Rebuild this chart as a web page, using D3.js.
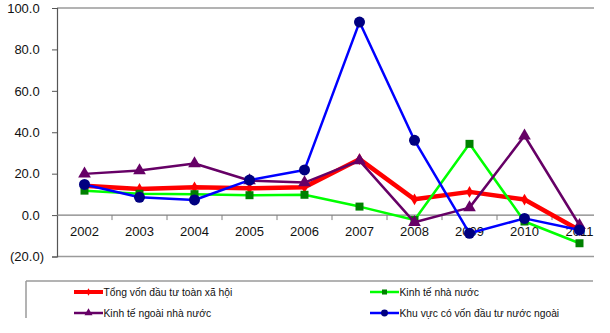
<!DOCTYPE html>
<html>
<head>
<meta charset="utf-8">
<script src="https://cdn.jsdelivr.net/npm/d3@7/dist/d3.min.js"></script>
<style>
  html, body { margin: 0; padding: 0; background: #fff; }
  svg { display: block; font-family: "Liberation Sans", Arial, sans-serif; }
</style>
</head>
<body>
<svg id="chart" width="610" height="333"></svg>
<script>
// Growth rate of investment capital by ownership sector (%)
const years = ["2002", "2003", "2004", "2005", "2006", "2007", "2008", "2009", "2010", "2011"];
const tongVon   = [14.2, 12.6, 13.4, 12.9, 13.5, 27.0, 7.6, 11.2, 7.5, -7.3];
const nhaNuoc   = [11.8, 10.3, 10.1, 9.6, 9.8, 4.1, -2.4, 34.4, -3.1, -13.6];
const ngoaiNN   = [19.9, 21.5, 24.9, 16.7, 15.7, 26.3, -3.5, 3.6, 38.3, -4.9];
const fdi       = [14.8, 8.6, 7.3, 16.9, 21.8, 93.2, 36.1, -8.8, -1.6, -7.2];
const yTicks    = [-20, 0, 20, 40, 60, 80, 100];

const series = [
  { name: "Tổng vốn đầu tư toàn xã hội",       values: tongVon, line: "#FF0000", mark: "#FF0000", width: 4.5, symbol: d3.symbolDiamond,  size: 40 },
  { name: "Kinh tế nhà nước",                  values: nhaNuoc, line: "#00FF00", mark: "#008000", width: 2.5, symbol: d3.symbolSquare,   size: 64 },
  { name: "Kinh tế ngoài nhà nước",            values: ngoaiNN, line: "#660066", mark: "#660066", width: 2.5, symbol: d3.symbolTriangle, size: 70 },
  { name: "Khu vực có vốn đầu tư nước ngoài",  values: fdi,     line: "#0000FF", mark: "#000080", width: 2.5, symbol: d3.symbolCircle,   size: 95 }
];

const svg = d3.select("#chart");
const plotL = 57, plotR = 594, plotT = 8, plotB = 256.5;

const x = d3.scaleBand().domain(years).range([plotL, plotL + 55 * years.length]).paddingInner(0).paddingOuter(0);
const y = d3.scaleLinear().domain([-20, 100]).range([plotB, plotT]);

// frame lines at top and bottom of the plot area
svg.append("line").attr("x1", plotL).attr("x2", plotR).attr("y1", plotT).attr("y2", plotT)
  .attr("stroke", "#9a9a9a").attr("stroke-width", 1.5);
svg.append("line").attr("x1", plotL).attr("x2", plotR).attr("y1", plotB).attr("y2", plotB)
  .attr("stroke", "#9a9a9a").attr("stroke-width", 1.5);

// y axis
const fmt = v => v < 0 ? "(" + d3.format(".1f")(-v) + ")" : d3.format(".1f")(v);
const yAxis = svg.append("g").attr("transform", `translate(${plotL},0)`)
  .call(d3.axisLeft(y).tickValues(yTicks).tickSize(5).tickPadding(8).tickFormat(fmt));
yAxis.select(".domain").attr("stroke", "#555").attr("stroke-width", 1.2);
yAxis.selectAll(".tick line").attr("stroke", "#555");
yAxis.selectAll(".tick text")
  .attr("font-size", 13).attr("fill", "#111")
  .attr("dx", d => d < 0 ? 0 : -4.3);

// x axis along zero
const xAxis = svg.append("g").attr("transform", `translate(0,${y(0)})`)
  .call(d3.axisBottom(x).tickSize(0).tickPadding(12));
xAxis.select(".domain").remove();
xAxis.selectAll(".tick text").attr("font-size", 13).attr("fill", "#111");
svg.append("line").attr("x1", plotL).attr("x2", plotR).attr("y1", y(0)).attr("y2", y(0))
  .attr("stroke", "#808080").attr("stroke-width", 1.2);
// tick marks between categories
svg.append("g").selectAll("line")
  .data(years.slice(1))
  .join("line")
  .attr("x1", d => x(d)).attr("x2", d => x(d))
  .attr("y1", y(0)).attr("y2", y(0) + 5)
  .attr("stroke", "#808080").attr("stroke-width", 1);

// series lines and markers
const cx = i => x(years[i]) + x.bandwidth() / 2;
const lineGen = d3.line().x((d, i) => cx(i)).y(d => y(d));

series.forEach(s => {
  svg.append("path").datum(s.values)
    .attr("d", lineGen)
    .attr("fill", "none")
    .attr("stroke", s.line)
    .attr("stroke-width", s.width)
    .attr("stroke-linejoin", "round");
  svg.append("g").selectAll("path")
    .data(s.values)
    .join("path")
    .attr("transform", (d, i) => `translate(${cx(i)},${y(d)})`)
    .attr("d", d3.symbol().type(s.symbol).size(s.size))
    .attr("fill", s.mark);
});

// legend box
svg.append("line").attr("x1", 26).attr("x2", 593).attr("y1", 281).attr("y2", 281)
  .attr("stroke", "#9a9a9a").attr("stroke-width", 1.5);
svg.append("line").attr("x1", 26).attr("x2", 26).attr("y1", 281).attr("y2", 318)
  .attr("stroke", "#9a9a9a").attr("stroke-width", 1.5);

const legendPos = [[74, 292], [370, 292], [74, 313], [370, 313]];
series.forEach((s, i) => {
  const [lx, ly] = legendPos[i];
  const g = svg.append("g").attr("transform", `translate(${lx},${ly})`);
  g.append("line").attr("x1", 0).attr("x2", 29).attr("y1", 0).attr("y2", 0)
    .attr("stroke", s.line).attr("stroke-width", s.width === 4.5 ? 4 : 2.5);
  g.append("path").attr("transform", "translate(14.5,0)")
    .attr("d", d3.symbol().type(s.symbol).size(s.size * 0.4))
    .attr("fill", s.mark);
  g.append("text").attr("x", 29.5).attr("y", 3.8)
    .attr("font-size", 10.3).attr("fill", "#111")
    .text(s.name);
});
</script>
</body>
</html>
